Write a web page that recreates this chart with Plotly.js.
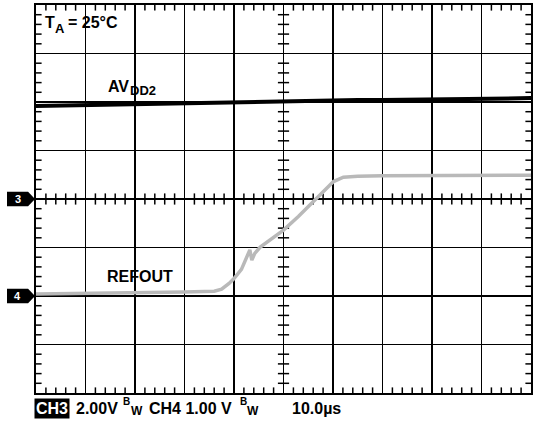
<!DOCTYPE html>
<html><head><meta charset="utf-8">
<script src="https://cdn.plot.ly/plotly-3.0.1.min.js"></script>
<style>html,body{margin:0;padding:0;background:#fff}#chart{width:533px;height:423px}</style>
</head><body><div id="chart"></div>
<script>
// Time in divisions (10 µs/div), amplitude in screen divisions (center = CH3 ground)
const avddX = [0,0.5,1,1.5,2,2.5,3,3.5,4,4.5,5,5.5,6,6.5,7,7.5,8,8.5,9,9.5,10];
const avddY = [1.92,1.93,1.95,1.96,1.97,1.97,1.99,1.99,2.0,2.01,2.02,2.02,2.03,2.04,2.04,2.05,2.06,2.05,2.07,2.07,2.08];
const refX = [0,1,2,3,3.6,3.75,3.9,4.0,4.15,4.32,4.36,4.42,4.53,4.8,5.0,5.3,5.64,5.85,6.01,6.21,6.5,7,8,9,10];
const refY = [-1.96,-1.95,-1.94,-1.92,-1.9,-1.86,-1.74,-1.64,-1.45,-1.05,-1.26,-1.12,-0.99,-0.8,-0.64,-0.36,-0.02,0.2,0.36,0.45,0.47,0.48,0.48,0.48,0.49];
const chLabels = ["3","4"];
const chMarkerY = [0,-2];
const bottomTexts = ["CH3","2.00V","CH4 1.00 V","10.0µs"];

const F = "Liberation Sans, Arial, sans-serif";
// minor ticks: center crosshair and borders
const tk = {hx:[],hy:[],vx:[],vy:[]};
for(let k=1;k<50;k++){ if(k%5){ [0,4,-4].forEach(y=>{tk.hx.push(k*0.2);tk.hy.push(y);}); } }
for(let k=-19;k<20;k++){ if(k%5){ [5,0,10].forEach(x=>{tk.vx.push(x);tk.vy.push(k*0.2);}); } }

const traces = [
 {x:tk.hx,y:tk.hy,mode:'markers',marker:{symbol:'line-ns',size:8,line:{color:'#000',width:1.5}},hoverinfo:'skip'},
 {x:tk.vx,y:tk.vy,mode:'markers',marker:{symbol:'line-ew',size:8,line:{color:'#000',width:1.5}},hoverinfo:'skip'},
 {x:avddX,y:avddY,mode:'lines',line:{color:'#000',width:4},name:'AVDD2'},
 {x:refX,y:refY,mode:'lines',line:{color:'#b9b9b9',width:3.5},name:'REFOUT'}
];

const shapes=[], annotations=[];
chMarkerY.forEach((y,i)=>{
 shapes.push({type:'path',xref:'paper',yref:'y',
   path:`M -0.0586,${y+0.15} L -0.016,${y+0.15} L -0.002,${y} L -0.016,${y-0.15} L -0.0586,${y-0.15} Z`,
   fillcolor:'#000',line:{width:0}});
 annotations.push({xref:'paper',yref:'y',x:-0.037,y:y,text:chLabels[i],showarrow:false,
   font:{family:F,size:11,color:'#fff',weight:'bold'},xanchor:'center',yanchor:'middle'});
});
// px helpers (plot area: x 36..531, y 5..393)
const px = p => (p-36)/495;
const py = p => (393-p)/388;
function lab(text,xp,yp,size,extra){
  annotations.push(Object.assign({xref:'paper',yref:'paper',x:px(xp),y:py(yp),xanchor:'left',yanchor:'middle',
    showarrow:false,text:text,borderpad:0,font:{family:F,size:size,color:'#000',weight:'bold'}},extra||{}));
}
lab('T',44,23,16); lab('A',54,28,13); lab('= 25°C',67,23,16);
lab('AV',107,86,16); lab('DD2',129,90,13);
lab('REFOUT',106,276,16);
// bottom status line
lab(bottomTexts[0],34,408,16,{bgcolor:'#000',borderpad:1,font:{family:F,size:16,color:'#fff',weight:'bold'}});
lab(bottomTexts[1],75,408,16); lab('B',122,402,10); lab('W',130,411,12);
lab(bottomTexts[2],148,408,16); lab('B',239,402,10); lab('W',246,411,12);
lab(bottomTexts[3],291,408,16);

const axBase = {showgrid:true,gridcolor:'#000',gridwidth:1.5,zeroline:false,showline:true,linecolor:'#000',linewidth:2,
  mirror:true,ticks:'',showticklabels:false,fixedrange:true};
const layout = {
 width:533,height:423,margin:{l:36,r:2,t:5,b:30},paper_bgcolor:'#fff',plot_bgcolor:'#fff',showlegend:false,
 xaxis:Object.assign({},axBase,{range:[0,10],dtick:1,tick0:0}),
 yaxis:Object.assign({},axBase,{range:[-4,4],dtick:1,tick0:0}),
 shapes:shapes,annotations:annotations
};
Plotly.newPlot('chart',traces,layout,{staticPlot:true});
</script></body></html>
